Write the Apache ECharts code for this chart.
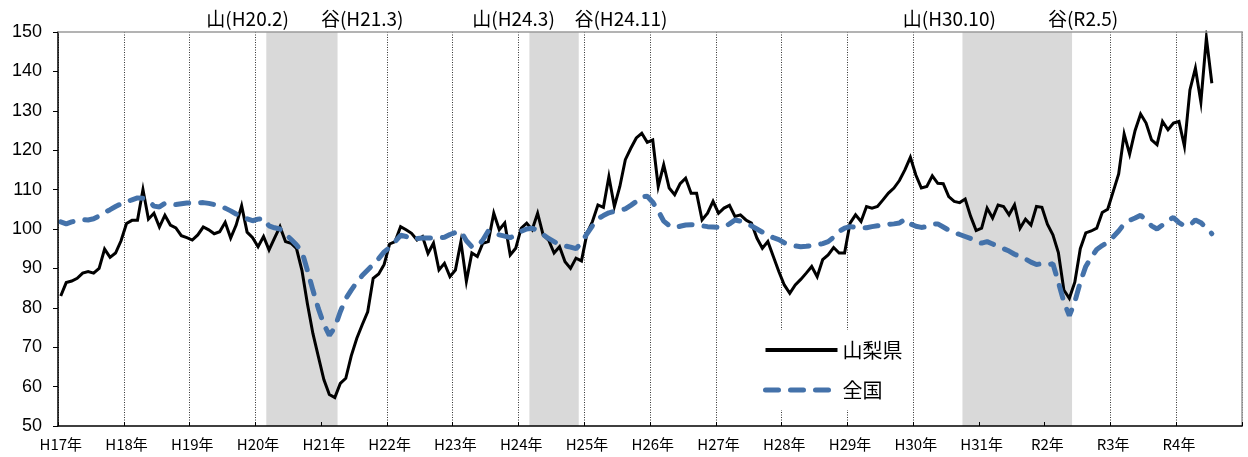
<!DOCTYPE html>
<html><head><meta charset="utf-8">
<script src="https://cdn.jsdelivr.net/npm/echarts@6/dist/echarts.min.js"></script>
<style>html,body{margin:0;padding:0;background:#fff}#c{width:1248px;height:457px}</style>
</head><body><div id="c"></div>
<script>
// ---- data ----
const yearLabels = ['H17年','H18年','H19年','H20年','H21年','H22年','H23年','H24年','H25年','H26年','H27年','H28年','H29年','H30年','H31年','R2年','R3年','R4年'];
const monthNames = ['1','2','3','4','5','6','7','8','9','10','11','12'];
// 山梨県 monthly index, H17.1 - R4.7
const yamanashi = [
 83.0, 86.4, 86.8, 87.5, 88.8, 89.2, 88.8, 90.0, 94.9, 92.8, 93.9, 97.0,
 101.4, 102.2, 102.2, 110.0, 102.5, 104.0, 100.5, 103.5, 101.0, 100.3, 98.3, 97.8,
 97.2, 98.5, 100.5, 99.8, 98.8, 99.3, 101.7, 97.7, 101.0, 105.9, 99.2, 97.8,
 95.5, 98.1, 94.7, 97.7, 100.6, 96.8, 96.4, 95.1, 89.5, 81.0, 73.5, 67.6,
 61.8, 58.0, 57.2, 60.8, 62.1, 67.8, 72.2, 75.7, 79.0, 87.5, 88.6, 91.0,
 96.2, 96.8, 100.6, 99.8, 98.9, 97.2, 98.1, 93.8, 96.4, 89.6, 91.3, 87.9,
 89.6, 96.8, 86.7, 93.9, 93.0, 96.4, 96.8, 104.0, 99.8, 101.5, 93.4, 95.1,
 100.2, 101.5, 99.8, 104.0, 98.5, 97.2, 93.9, 95.5, 91.7, 90.0, 92.6, 91.9,
 98.9, 101.9, 106.1, 105.5, 113.3, 105.7, 110.8, 117.6, 120.5, 123.1, 124.3, 122.0,
 122.6, 110.8, 116.3, 110.4, 108.7, 111.5, 112.9, 109.1, 109.1, 102.3, 104.0, 107.0,
 104.0, 105.3, 106.0, 103.2, 103.6, 102.3, 101.5, 97.7, 95.1, 96.8, 93.0, 89.2,
 85.8, 83.7, 85.8, 87.2, 88.8, 90.5, 87.9, 92.2, 93.4, 95.3, 93.9, 93.9,
 101.5, 103.6, 101.9, 105.7, 105.3, 105.7, 107.4, 109.1, 110.4, 112.3, 115.0, 118.2,
 113.7, 110.4, 110.8, 113.5, 111.6, 111.5, 108.2, 107.0, 106.7, 107.6, 103.2, 99.6,
 100.2, 105.3, 102.8, 106.1, 105.7, 103.6, 106.1, 100.2, 102.5, 101.0, 105.7, 105.5,
 101.2, 98.5, 94.0, 84.5, 82.4, 86.5, 95.0, 99.0, 99.5, 100.2, 104.2, 105.0,
 109.5, 114.0, 124.1, 119.0, 125.0, 129.2, 126.9, 122.6, 121.4, 127.3, 125.2, 126.9,
 127.3, 121.0, 135.3, 140.8, 132.2, 148.5, 137.0
];
// 全国 monthly index, H17.1 - R4.7
const national = [
 101.8, 101.3, 101.8, 102.2, 102.4, 102.3, 102.6, 103.3, 104.2, 104.9, 105.7, 106.4,
 106.9, 107.4, 107.9, 107.8, 107.2, 105.8, 105.6, 106.5, 106.4, 106.2, 106.4, 106.6,
 106.6, 106.6, 106.7, 106.5, 106.2, 105.9, 105.3, 104.6, 103.8, 103.0, 102.6, 102.1,
 102.5, 102.7, 100.8, 100.3, 100.0, 98.7, 97.4, 96.0, 94.3, 89.5, 84.5, 79.8,
 75.8, 73.0, 75.0, 79.0, 82.3, 84.5, 86.5, 88.2, 89.6, 91.0, 92.5, 94.2,
 95.3, 96.8, 98.4, 98.1, 97.3, 97.6, 97.7, 97.7, 97.7, 97.7, 97.9, 98.6,
 99.1, 99.4, 97.0, 95.5, 95.5, 97.2, 99.5, 99.3, 98.5, 98.2, 97.8, 98.5,
 99.4, 100.0, 100.2, 99.6, 98.6, 97.6, 96.8, 96.0, 95.7, 95.4, 95.0, 96.5,
 98.8, 100.8, 102.6, 103.4, 104.1, 104.5, 104.8, 105.1, 106.0, 107.0, 108.2, 108.3,
 106.8, 104.6, 102.0, 100.9, 100.3, 100.7, 101.0, 101.1, 101.0, 100.8, 100.6, 100.5,
 100.4, 100.5, 101.3, 102.3, 102.0, 101.4, 100.8, 100.0, 99.2, 98.4, 97.8, 97.3,
 96.5, 96.0, 95.7, 95.5, 95.6, 95.8, 96.0, 96.3, 96.8, 97.9, 99.4, 100.2,
 100.6, 100.4, 100.3, 100.3, 100.6, 100.8, 101.1, 101.2, 101.3, 101.5, 102.5, 101.3,
 100.7, 100.4, 100.6, 101.2, 101.3, 100.5, 99.7, 99.1, 98.6, 98.1, 97.6, 96.8,
 96.4, 96.8, 96.2, 95.7, 95.0, 94.4, 93.6, 93.0, 92.4, 91.6, 91.0, 91.2,
 90.9, 91.2, 86.5, 81.5, 78.0, 81.5, 86.5, 90.5, 92.8, 94.8, 95.8, 96.6,
 98.0, 99.5, 101.3, 102.2, 102.8, 103.5, 102.2, 100.8, 100.0, 101.0, 102.2, 102.9,
 101.6, 100.8, 101.0, 102.3, 101.6, 100.3, 98.8
];
// recession shading, in months from H17.1 (start, end)
const recessions = [[38, 51], [86, 95], [165, 185]];
// cycle annotations: text and month position of its centre
const cycleLabels = [['山(H20.2)', 34.6], ['谷(H21.3)', 55.5], ['山(H24.3)', 83.1], ['谷(H24.11)', 102.7], ['山(H30.10)', 162.6], ['谷(R2.5)', 187.0]];
const seriesNames = ['山梨県', '全国'];

// ---- chart ----
const categories = [];
yearLabels.forEach(y => monthNames.forEach(m => categories.push(y + '|' + m)));
const JP = '"Noto Sans CJK JP", sans-serif';
const BLUE = '#4472aa';
const chart = echarts.init(document.getElementById('c'), null, {renderer: 'canvas'});
chart.setOption({
  animation: false,
  backgroundColor: '#fff',
  grid: {left: 58, right: 6, top: 32, bottom: 31, containLabel: false},
  xAxis: [
    {type: 'category', data: categories, boundaryGap: true, position: 'bottom', z: 0,
     axisLine: {show: false}, axisTick: {show: false}, axisLabel: {show: false, interval: 11},
     splitLine: {show: true, interval: 11, lineStyle: {color: '#333', type: [1, 1.5], width: 1}}},
    {type: 'category', data: categories, boundaryGap: true, position: 'bottom', z: 5,
     axisLine: {show: true, lineStyle: {color: '#000', width: 1.5}},
     axisTick: {show: true, inside: true, length: 4, interval: 11, lineStyle: {color: '#000'}},
     axisLabel: {interval: 11, formatter: v => v.split('|')[0], fontSize: 15, color: '#000', margin: 11, fontFamily: JP},
     splitLine: {show: false}},
    {type: 'value', min: 0, max: 216, show: false},
    {type: 'category', data: categories, position: 'top', z: 5,
     axisLine: {show: true, lineStyle: {color: '#9a9a9a', width: 1.5}}, axisTick: {show: false}, axisLabel: {show: false}, splitLine: {show: false}}
  ],
  yAxis: [
    {type: 'value', min: 50, max: 150, interval: 10, z: 5,
     axisLine: {show: true, lineStyle: {color: '#000', width: 1.5}},
     axisTick: {show: true, length: 5, lineStyle: {color: '#000'}},
     axisLabel: {fontSize: 18, color: '#000', margin: 16, fontFamily: '"Liberation Sans", Arial, sans-serif'},
     splitLine: {show: false}},
    {type: 'value', min: 50, max: 150, position: 'right',
     axisLine: {show: true, lineStyle: {color: '#9a9a9a', width: 1.5}}, axisTick: {show: false}, axisLabel: {show: false}, splitLine: {show: false}}
  ],
  legend: {
    orient: 'vertical', left: 753, top: 330, padding: [10, 10], backgroundColor: '#fff',
    itemWidth: 72, itemHeight: 14, itemGap: 20, selectedMode: false,
    textStyle: {fontSize: 20, color: '#000', fontFamily: JP},
    data: [
      {name: seriesNames[0], itemStyle: {opacity: 0}, lineStyle: {width: 4, color: '#000'}},
      {name: seriesNames[1], itemStyle: {opacity: 0}, lineStyle: {width: 5, color: BLUE, type: [13, 12], cap: 'round'}}
    ]
  },
  series: [
    {name: 'shade', type: 'line', xAxisIndex: 2, yAxisIndex: 0, data: [], z: 1, silent: true,
     markArea: {silent: true, itemStyle: {color: '#d9d9d9'}, data: recessions.map(r => [{xAxis: r[0]}, {xAxis: r[1]}])}},
    {name: seriesNames[0], type: 'line', data: yamanashi, symbol: 'none', z: 3,
     lineStyle: {color: '#000', width: 3, join: 'miter'}, itemStyle: {color: '#000'}},
    {name: seriesNames[1], type: 'line', data: national, symbol: 'none', z: 4,
     lineStyle: {color: BLUE, width: 5, type: [13, 12], cap: 'round'}, itemStyle: {color: BLUE}}
  ]
});
const graphics = cycleLabels.map(c => ({
  type: 'text', x: chart.convertToPixel({xAxisIndex: 2}, c[1]), y: 19, z: 10,
  style: {text: c[0], fill: '#000', fontSize: 19, fontFamily: JP, align: 'center', verticalAlign: 'middle', textAlign: 'center', textVerticalAlign: 'middle'}
}));
chart.setOption({graphic: graphics});
</script>
</body></html>
